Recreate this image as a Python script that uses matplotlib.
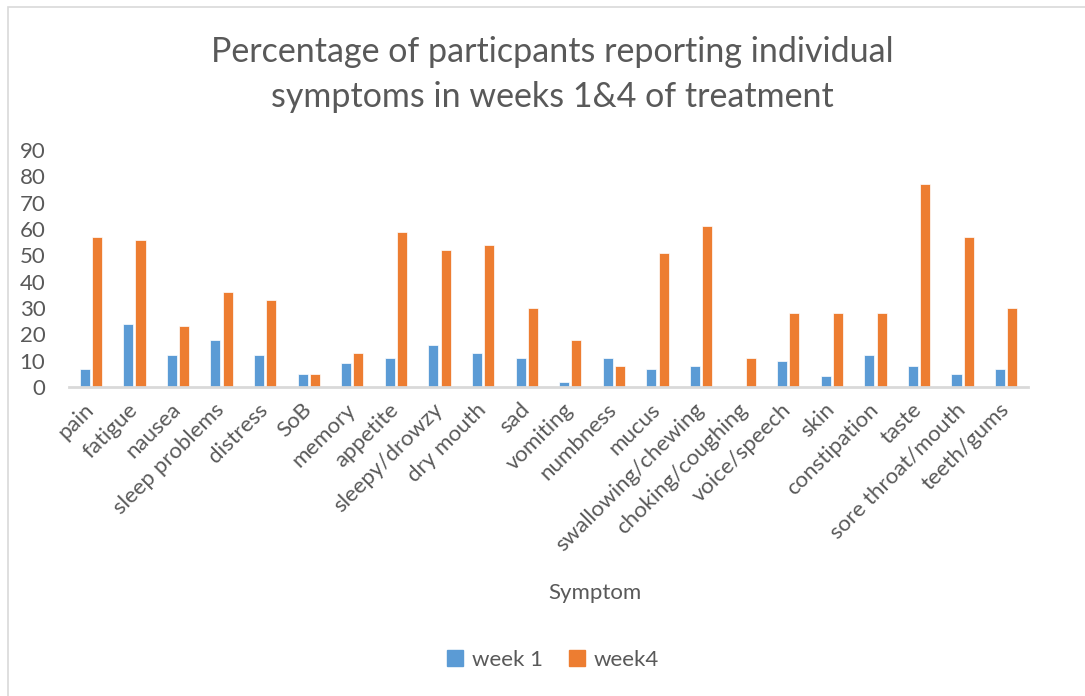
import numpy as np
import matplotlib
matplotlib.use("Agg")
import matplotlib.pyplot as plt
from matplotlib.patches import Rectangle, Patch

symptoms = ["pain", "fatigue", "nausea", "sleep problems", "distress", "SoB",
            "memory", "appetite", "sleepy/drowzy", "dry mouth", "sad", "vomiting",
            "numbness", "mucus", "swallowing/chewing", "choking/coughing",
            "voice/speech", "skin", "constipation", "taste", "sore throat/mouth",
            "teeth/gums"]
week1 = [7, 24, 12, 18, 12, 5, 9, 11, 16, 13, 11, 2, 11, 7, 8, 0, 10, 4, 12, 8, 5, 7]
week4 = [57, 56, 23, 36, 33, 5, 13, 59, 52, 54, 30, 18, 8, 51, 61, 11, 28, 28, 28, 77, 57, 30]
yticks = [0, 10, 20, 30, 40, 50, 60, 70, 80, 90]

grey = "#595959"
blue = "#5B9BD5"
orange = "#ED7D31"
plt.rcParams['font.family'] = ['Lato', 'DejaVu Sans']

W, H = 1085, 696
fig = plt.figure(figsize=(W/100, H/100), dpi=100)

# chart border (only left and top edges fall inside the picture)
fig.patches.append(Rectangle((8/W, -0.1), 1.2, 1 - 7/H + 0.1, transform=fig.transFigure,
                             fill=False, edgecolor="#D9D9D9", linewidth=1.2))

ax = fig.add_axes([69/W, 1 - 387/H, (1028 - 69)/W, (387 - 150)/H])
x = np.arange(len(symptoms))
ax.bar(x - 0.14, week1, width=0.23, color=blue, edgecolor="white", linewidth=0.5, label="week 1")
ax.bar(x + 0.14, week4, width=0.23, color=orange, edgecolor="white", linewidth=0.5, label="week4")

ax.set_xlim(-0.5, len(symptoms) - 0.5)
ax.set_ylim(0, 90)
ax.set_yticks(yticks)
ax.set_xticks(x)
ax.set_xticklabels(symptoms, rotation=45, ha="right", va="center", rotation_mode="anchor")
for s in ["top", "right", "left"]:
    ax.spines[s].set_visible(False)
ax.spines["bottom"].set_color("#D9D9D9")
ax.spines["bottom"].set_linewidth(2)
ax.tick_params(axis="both", length=0, colors=grey, labelsize=16)
ax.tick_params(axis="x", pad=14)
ax.tick_params(axis="y", pad=17)

fig.text(552/W, 1 - 52/H, "Percentage of particpants reporting individual", ha="center",
         va="center", fontsize=24.5, color=grey)
fig.text(552/W, 1 - 97/H, "symptoms in weeks 1&4 of treatment", ha="center",
         va="center", fontsize=24.5, color=grey)
fig.text(595/W, 1 - 593/H, "Symptom", ha="center", va="center", fontsize=16, color=grey)

handles = [Patch(color=blue), Patch(color=orange)]
fig.legend(handles, ["week 1", "week4"], loc="center", bbox_to_anchor=(553/W, 1 - 660/H),
           ncol=2, frameon=False, fontsize=16, labelcolor=grey, handlelength=0.7,
           handleheight=0.7, handletextpad=0.4, columnspacing=1.2)

plt.savefig("out.png", dpi=100)
